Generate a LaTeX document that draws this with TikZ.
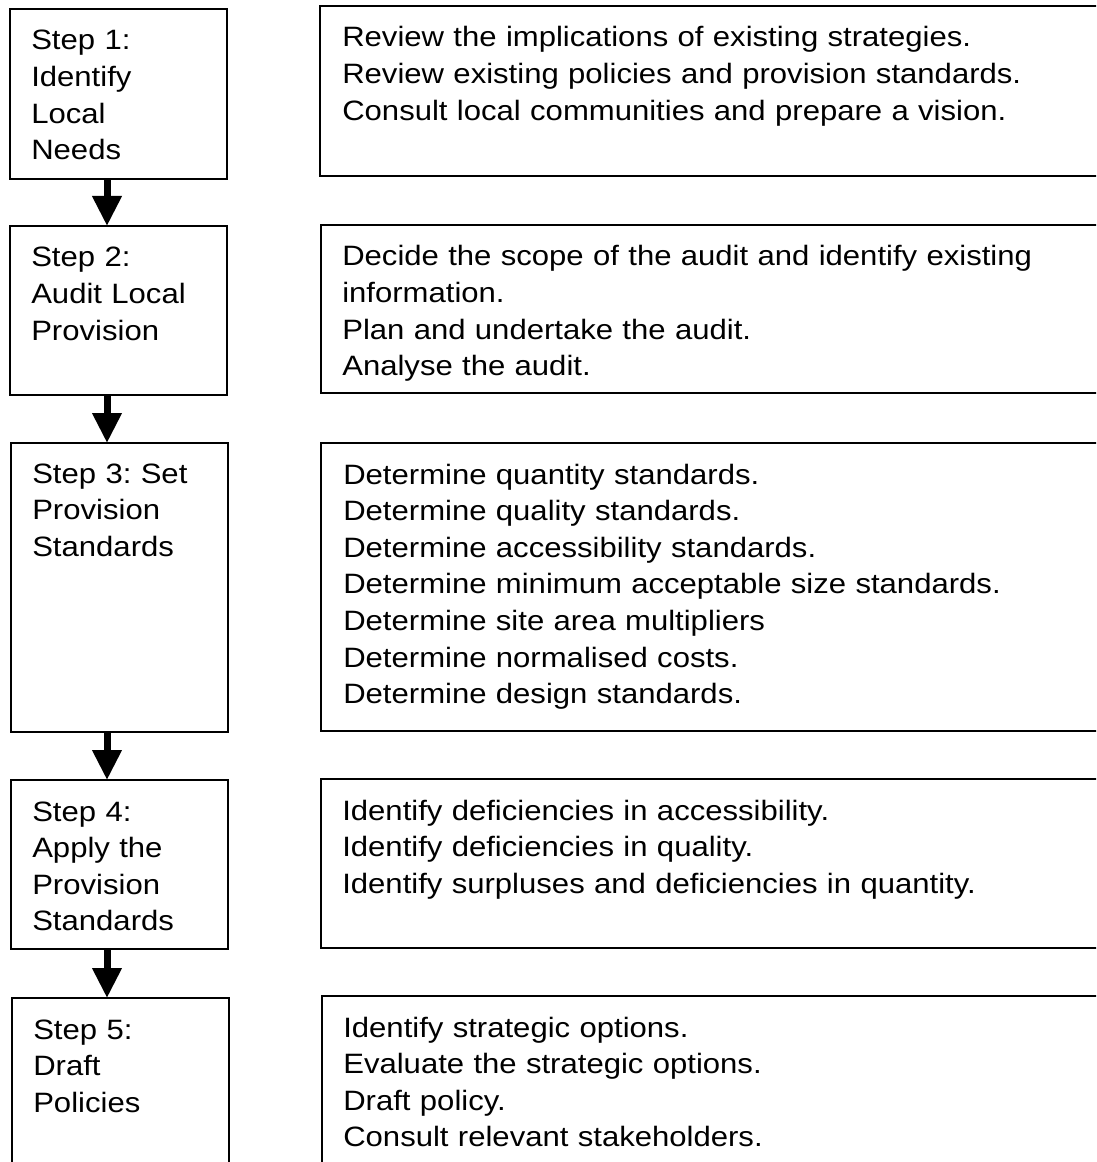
\documentclass[tikz,border=0pt]{standalone}
\usepackage{fontspec}
\setmainfont{Liberation Sans}[FakeStretch=1.11]
\usetikzlibrary{arrows.meta, calc, positioning}
\frenchspacing

\begin{document}
\begin{tikzpicture}[x=0.75pt, y=-0.75pt, >={Triangle[width=21pt, length=22.5pt]},
    stepbox/.style={draw, line width=1.4pt, anchor=north west, outer sep=0pt, inner sep=0pt},
    leftbox/.style={stepbox, minimum width=162.75pt},
    taskbox/.style={stepbox, minimum width=600pt},
    steptext/.style={anchor=base west, inner sep=0pt, align=left, text width=165pt, font=\fontsize{21pt}{27.45pt}\selectfont},
    tasktext/.style={steptext, text width=590pt},
    flow/.style={->, line width=5.25pt}]

    % Page frame, the boxes run off the right and bottom edge
    \useasboundingbox (0,0) rectangle (1096,1162);
    \clip (0,0) rectangle (1096,1162);

    % Steps (left column)
    \node [leftbox, minimum height=127.5pt] (s1) at (10,9) {};
    \node [leftbox, minimum height=126.75pt] (s2) at (10,226) {};
    \node [leftbox, minimum height=216.75pt] (s3) at (11,443) {};
    \node [leftbox, minimum height=126.75pt] (s4) at (11,780) {};
    \node [leftbox, minimum height=150pt] (s5) at (12,998) {};

    \node [steptext] (l1) at ($(s1.north west)+(21,41)$) {Step 1:\\Identify\\Local\\Needs};
    \node [steptext] (l2) at ($(s2.north west)+(21,41)$) {Step 2:\\Audit Local\\Provision};
    \node [steptext] (l3) at ($(s3.north west)+(21,40)$) {Step 3: Set\\Provision\\Standards};
    \node [steptext] (l4) at ($(s4.north west)+(21,41)$) {Step 4:\\Apply the\\Provision\\Standards};
    \node [steptext] (l5) at ($(s5.north west)+(21,41)$) {Step 5:\\Draft\\Policies};

    % Tasks (right column)
    \node [taskbox, minimum height=127.5pt] (t1) at (320,6) {};
    \node [taskbox, minimum height=126pt] (t2) at (321,225) {};
    \node [taskbox, minimum height=216pt] (t3) at (321,443) {};
    \node [taskbox, minimum height=126.75pt] (t4) at (321,779) {};
    \node [taskbox, minimum height=150pt] (t5) at (322,996) {};

    \node [tasktext] (r1) at ($(t1.north west)+(22,41)$) {Review the implications of existing strategies.\\Review existing policies and provision standards.\\Consult local communities and prepare a vision.};
    \node [tasktext] (r2) at ($(t2.north west)+(21,41)$) {Decide the scope of the audit and identify existing\\information.\\Plan and undertake the audit.\\Analyse the audit.};
    \node [tasktext] (r3) at ($(t3.north west)+(22,41)$) {Determine quantity standards.\\Determine quality standards.\\Determine accessibility standards.\\Determine minimum acceptable size standards.\\Determine site area multipliers\\Determine normalised costs.\\Determine design standards.};
    \node [tasktext] (r4) at ($(t4.north west)+(21,41)$) {Identify deficiencies in accessibility.\\Identify deficiencies in quality.\\Identify surpluses and deficiencies in quantity.};
    \node [tasktext] (r5) at ($(t5.north west)+(21,41)$) {Identify strategic options.\\Evaluate the strategic options.\\Draft policy.\\Consult relevant stakeholders.};

    % Step to step arrows
    \coordinate (spine) at (107,0);
    \draw [flow] (s1.south -| spine) -- (s2.north -| spine);
    \draw [flow] (s2.south -| spine) -- (s3.north -| spine);
    \draw [flow] (s3.south -| spine) -- (s4.north -| spine);
    \draw [flow] (s4.south -| spine) -- (s5.north -| spine);

\end{tikzpicture}
\end{document}
